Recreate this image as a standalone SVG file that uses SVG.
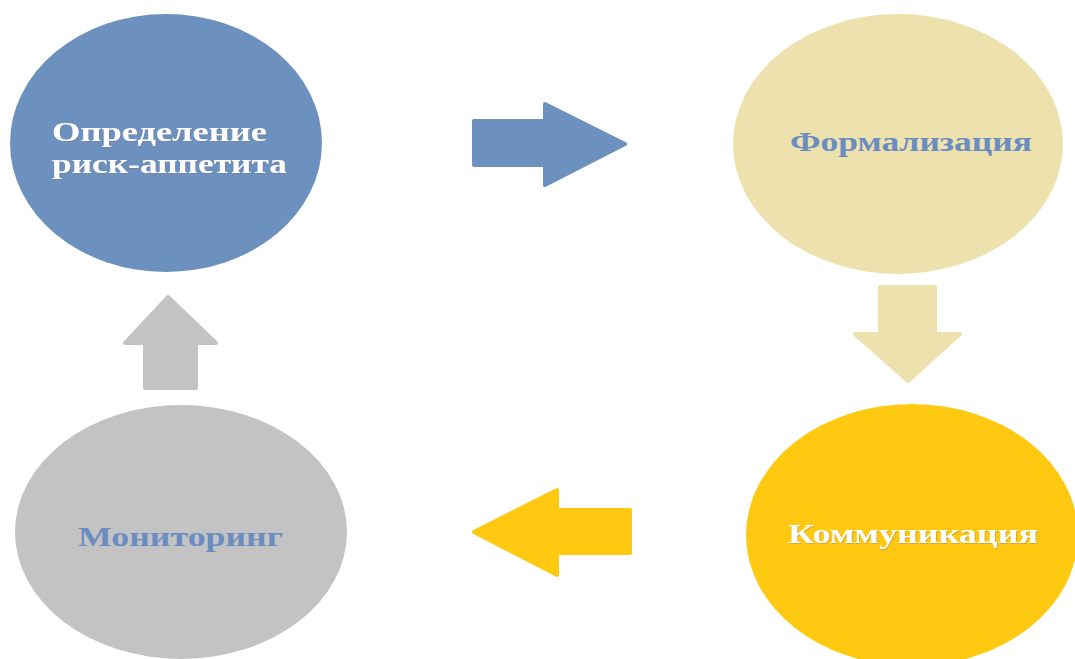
<svg xmlns="http://www.w3.org/2000/svg" width="1075" height="659" viewBox="0 0 1075 659">
  <defs>
    <style>
      .lbl { font-family: "Liberation Serif", "Times New Roman", serif; font-weight: bold; font-size: 27px; }
      .white { fill: #ffffff; }
      .blue { fill: #6a8cc1; }
      .arr { stroke-linejoin: round; stroke-width: 4; }
    </style>
    <filter id="sh" x="-10%" y="-30%" width="120%" height="160%">
      <feDropShadow dx="0.8" dy="0.8" stdDeviation="0.5" flood-color="#8a6070" flood-opacity="0.4"/>
    </filter>
  </defs>
  <rect width="1075" height="659" fill="#ffffff"/>

  <g id="node-definition">
    <ellipse cx="166" cy="143" rx="156" ry="129" fill="#6d91be"/>
    <text class="lbl white" filter="url(#sh)" x="52" y="141" textLength="215" lengthAdjust="spacingAndGlyphs">Определение</text>
    <text class="lbl white" filter="url(#sh)" x="52" y="173" textLength="235" lengthAdjust="spacingAndGlyphs">риск-аппетита</text>
  </g>

  <g id="node-formalization">
    <ellipse cx="898" cy="144" rx="165" ry="130" fill="#ede2ae"/>
    <text class="lbl blue" x="790" y="151" textLength="242" lengthAdjust="spacingAndGlyphs">Формализация</text>
  </g>

  <g id="node-communication">
    <ellipse cx="912" cy="535" rx="166" ry="131" fill="#fec910"/>
    <text class="lbl white" filter="url(#sh)" x="788" y="543" textLength="250" lengthAdjust="spacingAndGlyphs">Коммуникация</text>
  </g>

  <g id="node-monitoring">
    <ellipse cx="181" cy="532" rx="166" ry="127" fill="#c3c3c3"/>
    <text class="lbl blue" x="78" y="546" textLength="205" lengthAdjust="spacingAndGlyphs">Мониторинг</text>
  </g>

  <g id="connectors">
    <path class="arr" fill="#6d91be" stroke="#6d91be" d="M474,121 L545,121 L545,104 L625,144 L545,185 L545,165 L474,165 Z"/>
    <path class="arr" fill="#ede2ae" stroke="#ede2ae" d="M880,287 L935,287 L935,334 L960,334 L908,381 L855,334 L880,334 Z"/>
    <path class="arr" fill="#fec910" stroke="#fec910" d="M630,510 L630,553 L557,553 L557,575 L474,532 L557,490 L557,510 Z"/>
    <path class="arr" fill="#c3c3c3" stroke="#c3c3c3" d="M145,388 L196,388 L196,343 L216,343 L168,297 L125,343 L145,343 Z"/>
  </g>
</svg>
